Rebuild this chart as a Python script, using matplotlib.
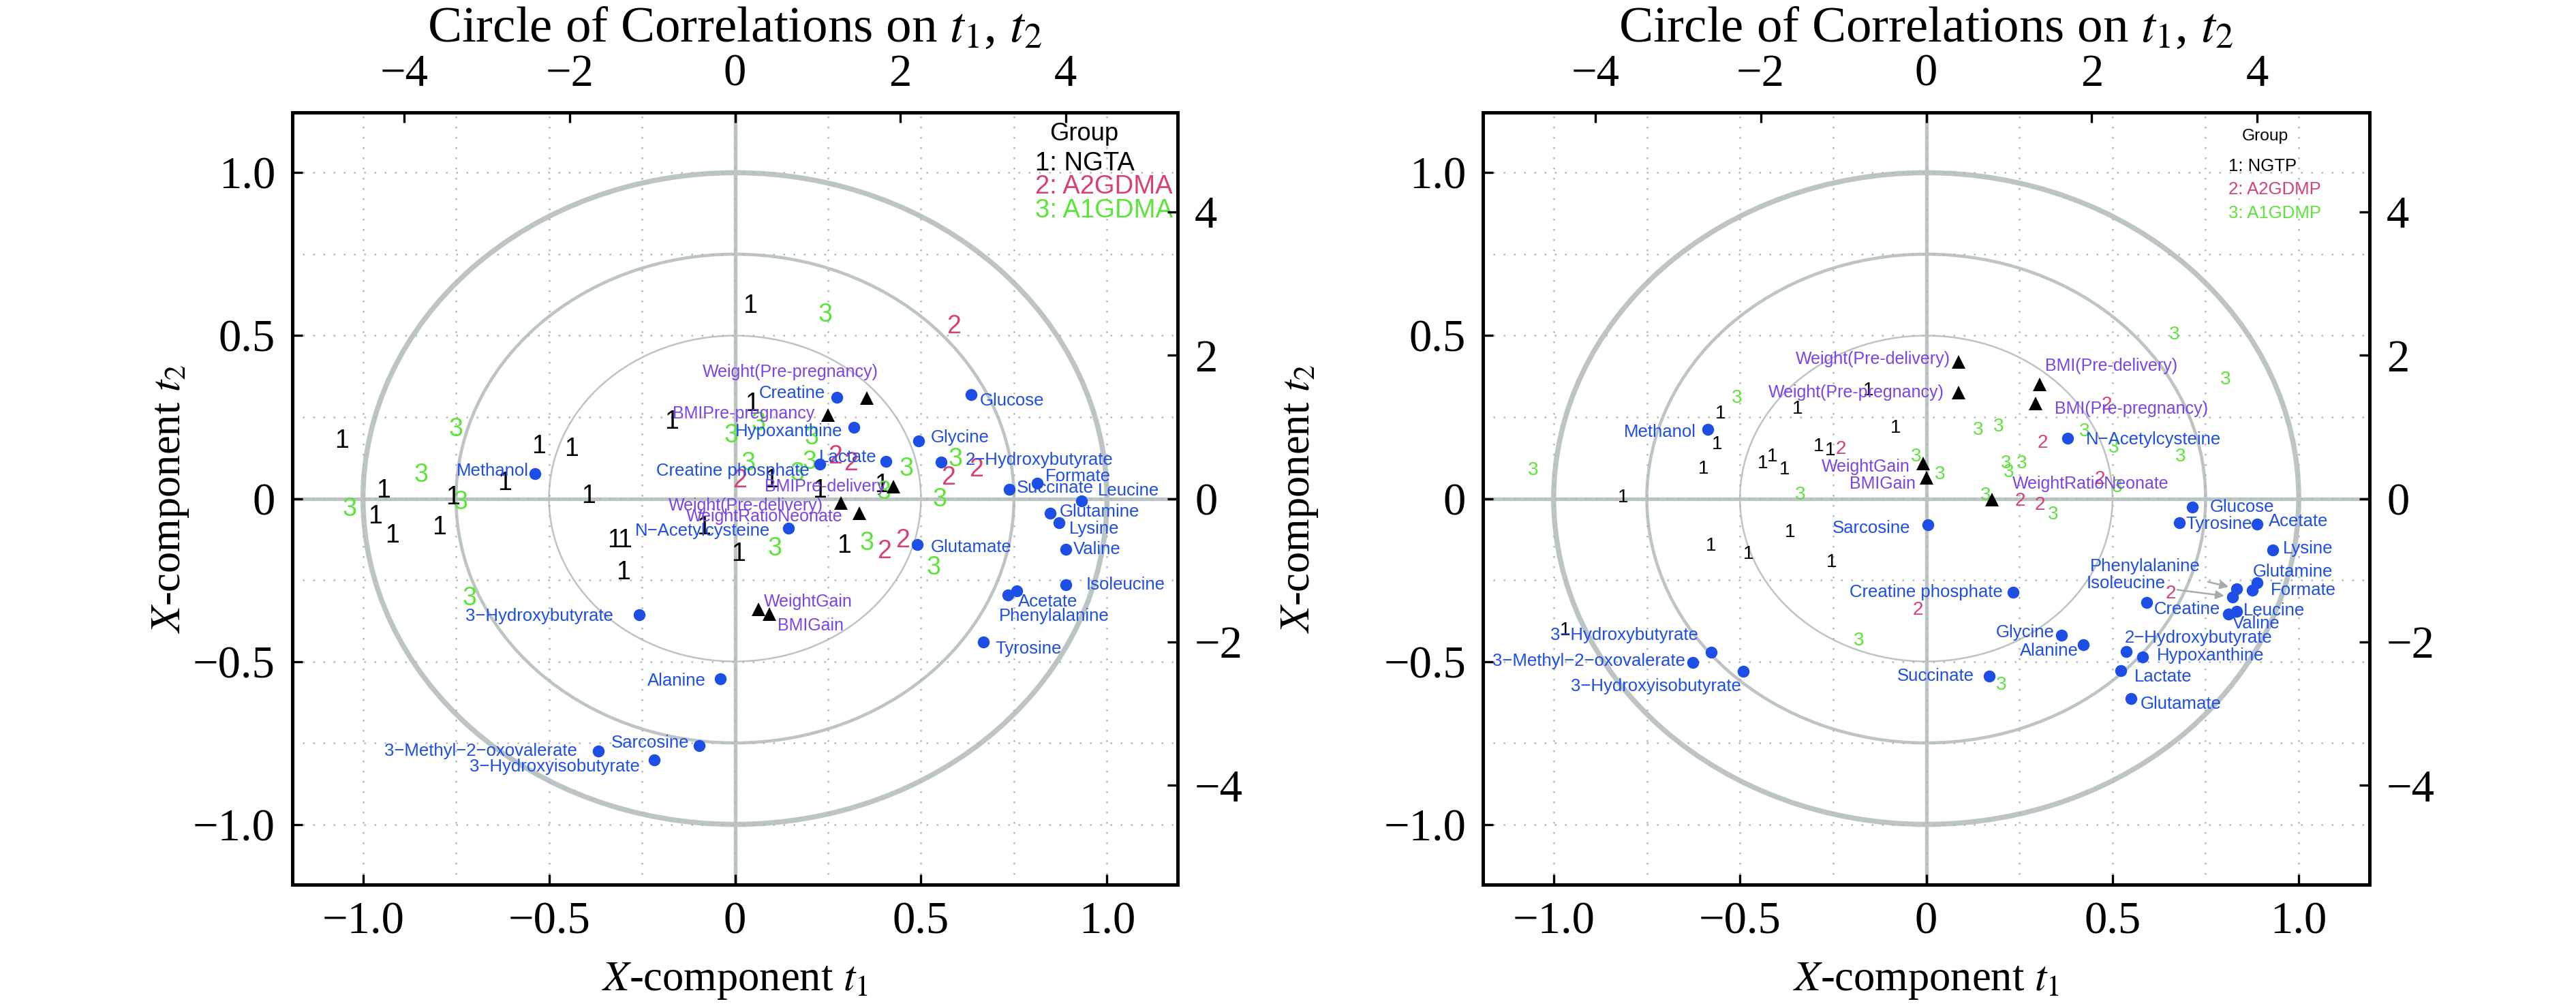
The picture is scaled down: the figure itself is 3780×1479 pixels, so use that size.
import matplotlib
matplotlib.use("Agg")
import matplotlib.pyplot as plt
from matplotlib.patches import Circle
from matplotlib.ticker import MultipleLocator, FixedLocator, FuncFormatter

plt.rcParams["font.family"] = ["Liberation Sans", "DejaVu Sans"]
plt.rcParams["mathtext.fontset"] = "stix"

M = "\u2212"  # minus sign used in the metabolite names

# ---------------- left panel: metabolites (blue dots) ----------------
a_met_names = ["Methanol", "Creatine", "Hypoxanthine", "Glucose", "Glycine", "Lactate",
               "Creatine phosphate", f"2{M}Hydroxybutyrate", "Formate", "Succinate", "Leucine",
               "Glutamine", "Lysine", "Valine", "Glutamate", f"N{M}Acetylcysteine", "Isoleucine",
               "Acetate", "Phenylalanine", "Tyrosine", f"3{M}Hydroxybutyrate", "Alanine",
               "Sarcosine", f"3{M}Methyl{M}2{M}oxovalerate", f"3{M}Hydroxyisobutyrate"]
a_met_x = [-0.537, 0.273, 0.319, 0.634, 0.493, 0.405, 0.228, 0.555, 0.812, 0.737, 0.931,
           0.847, 0.871, 0.890, 0.490, 0.144, 0.890, 0.758, 0.733, 0.667, -0.258, -0.039,
           -0.096, -0.368, -0.218]
a_met_y = [0.076, 0.311, 0.218, 0.318, 0.176, 0.114, 0.106, 0.111, 0.048, 0.028, -0.008,
           -0.044, -0.074, -0.156, -0.141, -0.092, -0.265, -0.283, -0.296, -0.440, -0.356,
           -0.554, -0.759, -0.776, -0.803]

# left panel: clinical variables (black triangles, purple labels)
a_cli_names = ["Weight(Pre-pregnancy)", "BMIPre-pregnancy", "BMIPre-delivery",
               "Weight(Pre-delivery)", "WeightRatioNeonate", "WeightGain", "BMIGain"]
a_cli_x = [0.354, 0.251, 0.426, 0.284, 0.334, 0.064, 0.092]
a_cli_y = [0.308, 0.256, 0.036, -0.013, -0.046, -0.339, -0.355]

# left panel: samples by group
a_g1_x = [-1.057, -0.527, -0.439, -0.619, -0.946, -0.758, -0.394, -0.170, 0.041, 0.046,
          -0.967, -0.922, -0.795, -0.325, -0.296, -0.300, -0.084, 0.010, 0.097, 0.394,
          0.228, 0.293]
a_g1_y = [0.176, 0.160, 0.152, 0.048, 0.024, 0.004, 0.008, 0.236, 0.590, 0.290,
          -0.055, -0.115, -0.088, -0.129, -0.129, -0.227, -0.088, -0.171, 0.056, 0.040,
          0.024, -0.146]
a_g2_x = [0.588, 0.270, 0.312, 0.648, 0.574, 0.013, 0.401, 0.450]
a_g2_y = [0.528, 0.128, 0.108, 0.088, 0.064, 0.056, -0.162, -0.129]
a_g3_x = [-0.750, -0.844, -0.737, -1.036, -0.713, -0.010, 0.242, 0.064, 0.207, 0.200,
          0.036, 0.167, 0.460, 0.592, 0.400, 0.550, 0.108, 0.354, 0.534]
a_g3_y = [0.212, 0.072, -0.012, -0.032, -0.307, 0.194, 0.564, 0.232, 0.188, 0.112,
          0.108, 0.076, 0.092, 0.120, 0.020, -0.004, -0.153, -0.137, -0.213]
a_legend = ["1: NGTA", "2: A2GDMA", "3: A1GDMA"]

# ---------------- right panel: metabolites ----------------
b_met_names = ["Methanol", f"N{M}Acetylcysteine", "Sarcosine", "Glucose", "Tyrosine", "Acetate",
               "Lysine", "Glutamine", "Formate", "Phenylalanine", "Isoleucine", "Creatine",
               "Leucine", "Valine", "Creatine phosphate", "Glycine", "Alanine",
               f"2{M}Hydroxybutyrate", "Hypoxanthine", "Lactate", "Glutamate", "Succinate",
               f"3{M}Hydroxybutyrate", f"3{M}Methyl{M}2{M}oxovalerate", f"3{M}Hydroxyisobutyrate"]
b_met_x = [-0.587, 0.379, 0.005, 0.715, 0.680, 0.889, 0.931, 0.889, 0.876, 0.834, 0.823,
           0.592, 0.833, 0.811, 0.233, 0.364, 0.421, 0.537, 0.580, 0.523, 0.549, 0.170,
           -0.578, -0.627, -0.492]
b_met_y = [0.212, 0.186, -0.081, -0.027, -0.074, -0.078, -0.157, -0.258, -0.282, -0.277,
           -0.302, -0.318, -0.347, -0.355, -0.288, -0.419, -0.449, -0.470, -0.486, -0.528,
           -0.613, -0.545, -0.472, -0.503, -0.531]

b_cli_names = ["Weight(Pre-delivery)", "Weight(Pre-pregnancy)", "BMI(Pre-delivery)",
               "BMI(Pre-pregnancy)", "WeightGain", "BMIGain", "WeightRatioNeonate"]
b_cli_x = [0.086, 0.086, 0.304, 0.293, -0.008, 0.000, 0.176]
b_cli_y = [0.420, 0.326, 0.350, 0.292, 0.108, 0.064, -0.004]

b_g1_x = [-0.814, -0.553, -0.345, -0.156, -0.083, -0.562, -0.288, -0.258, -0.598, -0.438,
          -0.413, -0.380, -0.366, -0.578, -0.478, -0.254, -0.969]
b_g1_y = [0.004, 0.260, 0.276, 0.332, 0.216, 0.167, 0.159, 0.148, 0.092, 0.108,
          0.128, 0.088, -0.103, -0.146, -0.171, -0.195, -0.405]
b_g2_x = [-0.229, 0.484, 0.312, 0.466, 0.253, 0.306, -0.023, 0.657]
b_g2_y = [0.152, 0.288, 0.170, 0.060, -0.008, -0.020, -0.342, -0.291]
b_g3_x = [-0.508, 0.139, 0.195, -1.055, -0.027, 0.036, -0.338, 0.160, 0.666, 0.803,
          0.424, 0.503, 0.683, 0.214, 0.257, 0.221, 0.513, -0.181, 0.202, 0.341]
b_g3_y = [0.308, 0.211, 0.220, 0.087, 0.128, 0.074, 0.012, 0.010, 0.504, 0.364,
          0.206, 0.156, 0.128, 0.108, 0.108, 0.080, 0.034, -0.437, -0.573, -0.050]
b_legend = ["1: NGTP", "2: A2GDMP", "3: A1GDMP"]

title = "Circle of Correlations on $t_1$, $t_2$"
xlab = "$X$-component $t_1$"
ylab = "$X$-component $t_2$"
ticks_main = [-1.0, -0.5, 0.0, 0.5, 1.0]
ticks_twin = [-4, -2, 0, 2, 4]

# ---------------- layout (label offsets from their point, data units) ----------------
a_met_lab = [(-0.017, 0.008, "right"), (-0.03, 0.013, "right"), (-0.03, -0.012, "right"),
             (0.024, -0.018, "left"), (0.034, 0.012, "left"), (-0.023, 0.013, "right"),
             (-0.028, -0.022, "right"), (0.065, 0.007, "left"), (0.023, 0.021, "left"),
             (0.02, 0.004, "left"), (0.044, 0.032, "left"), (0.026, 0.003, "left"),
             (0.028, -0.02, "left"), (0.02, 0.0, "left"), (0.037, -0.009, "left"),
             (-0.05, -0.008, "right"), (0.053, 0.0, "left"), (0.003, -0.033, "left"),
             (-0.024, -0.065, "left"), (0.033, -0.021, "left"), (-0.07, -0.005, "right"),
             (-0.04, -0.005, "right"), (-0.027, 0.009, "right"), (-0.057, 0.0, "right"),
             (-0.037, -0.021, "right")]
a_cli_lab = [(-0.205, 0.08, "center"), (-0.037, 0.004, "right"), (-0.021, 0.0, "right"),
             (-0.047, -0.009, "right"), (-0.045, -0.009, "right"), (0.014, 0.023, "left"),
             (0.022, -0.036, "left")]
b_met_lab = [(-0.031, -0.008, "right"), (0.049, -0.006, "left"), (-0.047, -0.009, "right"),
             (0.047, 0.0, "left"), (0.016, -0.004, "left"), (0.03, 0.007, "left"),
             (0.027, 0.004, "left"), (-0.012, 0.033, "left"), (0.049, 0.0, "left"),
             (-0.395, 0.068, "arrow"), (-0.392, 0.042, "arrow"), (0.019, -0.021, "left"),
             (0.019, 0.003, "left"), (0.012, -0.028, "left"), (-0.027, 0.0, "right"),
             (-0.019, 0.008, "right"), (-0.013, -0.018, "right"), (-0.004, 0.042, "left"),
             (0.039, 0.004, "left"), (0.035, -0.018, "left"), (0.025, -0.018, "left"),
             (-0.041, 0.0, "right"), (-0.035, 0.053, "right"), (-0.019, 0.005, "right"),
             (-0.005, -0.046, "right")]
b_cli_lab = [(-0.022, 0.008, "right"), (-0.038, 0.0, "right"), (0.016, 0.056, "left"),
             (0.052, -0.016, "left"), (-0.036, -0.01, "right"), (-0.029, -0.02, "right"),
             (0.055, 0.048, "left")]

BLUE = "#1d4ee6"
PURPLE = "#7a45e8"
PINK = "#d6417a"
GREEN = "#5de43a"
GRAY = "#bcc4c4"
SERIF = "Liberation Serif"


def fmt_main(v, pos):
    if abs(v) < 1e-9:
        return "0"
    return f"{v:.1f}".replace("-", M)


def fmt_twin(v, pos):
    return f"{v:.0f}".replace("-", M)


def panel(ax, met, cli, groups, legend, digit_fs, leg_fs, leg_xy):
    ax.set_xlim(-1.19, 1.19)
    ax.set_ylim(-1.185, 1.185)
    ax.xaxis.set_major_locator(FixedLocator(ticks_main))
    ax.yaxis.set_major_locator(FixedLocator(ticks_main))
    ax.xaxis.set_minor_locator(MultipleLocator(0.25))
    ax.yaxis.set_minor_locator(MultipleLocator(0.25))
    ax.xaxis.set_major_formatter(FuncFormatter(fmt_main))
    ax.yaxis.set_major_formatter(FuncFormatter(fmt_main))
    ax.grid(which="both", ls=(0, (1, 5)), lw=0.6, color="#b0b9b9")
    ax.tick_params(which="major", direction="in", length=3.5, width=0.8, labelsize=16,
                   labelfontfamily=SERIF, pad=6)
    ax.tick_params(which="minor", length=0)
    for s in ax.spines.values():
        s.set_linewidth(1.2)

    for r, lw in zip([1.0, 0.75, 0.5], [1.8, 1.1, 0.6]):
        ax.add_patch(Circle((0, 0), r, fill=False, ec=GRAY, lw=lw, zorder=1))
    ax.axhline(0, color=GRAY, lw=1.3, zorder=1)
    ax.axvline(0, color=GRAY, lw=1.3, zorder=1)

    for xs, ys, col in groups:
        for x, y in zip(xs, ys):
            ax.text(x, y, "1" if col == "black" else ("2" if col == PINK else "3"),
                    color=col, fontsize=digit_fs, ha="center", va="center", zorder=3)

    names, xs, ys, labs = met
    ax.plot(xs, ys, "o", color=BLUE, ms=4.2, mec="none", zorder=4)
    for n, x, y, (dx, dy, ha) in zip(names, xs, ys, labs):
        if ha == "arrow":
            ax.annotate(n, xy=(x, y), xytext=(x + dx, y + dy), color=BLUE, fontsize=6.2,
                        ha="left", va="center", zorder=5,
                        arrowprops=dict(arrowstyle="-|>", color="#a4adad", lw=0.6,
                                        mutation_scale=6, shrinkA=2, shrinkB=3))
        else:
            ax.text(x + dx, y + dy, n, color=BLUE, fontsize=6.2, ha=ha, va="center", zorder=5)

    names, xs, ys, labs = cli
    ax.plot(xs, ys, "^", color="black", ms=4.8, mec="none", zorder=4)
    for n, x, y, (dx, dy, ha) in zip(names, xs, ys, labs):
        ax.text(x + dx, y + dy, n, color=PURPLE, fontsize=6.0, ha=ha, va="center", zorder=5)

    gx, gy, lx, ly, step = leg_xy
    ax.text(gx, gy, "Group", fontsize=leg_fs * 0.95, ha="center", va="center", zorder=5)
    for i, (t, col) in enumerate(zip(legend, ["black", PINK, GREEN])):
        ax.text(lx, ly - i * step, t, color=col, fontsize=leg_fs, ha="left", va="center",
                zorder=5)

    top = ax.twiny()
    top.set_xlim(-1.19 * 4.5, 1.19 * 4.5)
    top.xaxis.set_major_locator(FixedLocator(ticks_twin))
    top.xaxis.set_major_formatter(FuncFormatter(fmt_twin))
    top.tick_params(direction="in", length=3.5, width=0.8, labelsize=16,
                    labelfontfamily=SERIF, pad=6)
    right = ax.twinx()
    right.set_ylim(-1.185 * 4.545, 1.185 * 4.545)
    right.yaxis.set_major_locator(FixedLocator(ticks_twin))
    right.yaxis.set_major_formatter(FuncFormatter(fmt_twin))
    right.tick_params(direction="in", length=3.5, width=0.8, labelsize=16,
                      labelfontfamily=SERIF, pad=6)
    ax.set_xlabel(xlab, fontsize=15, fontfamily=SERIF, labelpad=6)
    pos = ax.get_position()
    fig.text((pos.x0 + pos.x1) / 2, 1 - 43 / 1479, title, fontsize=18, fontfamily=SERIF,
             ha="center", va="center")


fig = plt.figure(figsize=(12.6, 4.93), dpi=300)
bottom = 1 - 1298 / 1479
height = 1133 / 1479
axA = fig.add_axes([429 / 3780, bottom, 1299 / 3780, height])
axB = fig.add_axes([2176 / 3780, bottom, 1301 / 3780, height])

panel(axA, (a_met_names, a_met_x, a_met_y, a_met_lab), (a_cli_names, a_cli_x, a_cli_y, a_cli_lab),
      [(a_g1_x, a_g1_y, "black"), (a_g2_x, a_g2_y, PINK), (a_g3_x, a_g3_y, GREEN)],
      a_legend, 9, 9.2, (0.938, 1.12, 0.807, 1.028, 0.072))
panel(axB, (b_met_names, b_met_x, b_met_y, b_met_lab), (b_cli_names, b_cli_x, b_cli_y, b_cli_lab),
      [(b_g1_x, b_g1_y, "black"), (b_g2_x, b_g2_y, PINK), (b_g3_x, b_g3_y, GREEN)],
      b_legend, 6.7, 6.2, (0.909, 1.112, 0.811, 1.02, 0.072))

fig.text(250 / 3780, bottom + height / 2, ylab, rotation=90, fontsize=15, fontfamily=SERIF,
         ha="center", va="center")
fig.text(1907 / 3780, bottom + height / 2, ylab, rotation=90, fontsize=15, fontfamily=SERIF,
         ha="center", va="center")

fig.savefig("out.png", dpi=300)
